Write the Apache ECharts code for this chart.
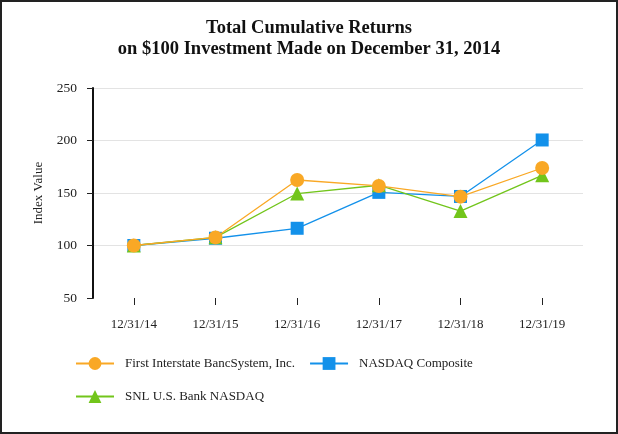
<!DOCTYPE html>
<html><head><meta charset="utf-8">
<script src="https://cdn.jsdelivr.net/npm/echarts@6/dist/echarts.min.js"></script>
<style>html,body{margin:0;padding:0;background:#fff}#c{width:618px;height:434px}</style>
</head><body><div id="c"></div>
<script>
const categories = ['12/31/14','12/31/15','12/31/16','12/31/17','12/31/18','12/31/19'];
const firstInterstate = [100, 107.7, 162.4, 156.7, 146.5, 173.8];
const nasdaqComposite = [100, 106.9, 116.4, 150.6, 146.7, 200.5];
const snlBank = [100, 107.8, 149.5, 157.4, 132.8, 166.8];
const seriesNames = ['First Interstate BancSystem, Inc.', 'NASDAQ Composite', 'SNL U.S. Bank NASDAQ'];
const titleLines = ['Total Cumulative Returns', 'on $100 Investment Made on December 31, 2014'];

const serif = '"Liberation Serif", "Times New Roman", serif';
const colors = ['#F9A825', '#1391EA', '#72C51B'];
const legendText = { fontFamily: serif, fontSize: 13, color: '#222', padding: [0, 0, 0, 6] };
const chart = echarts.init(document.getElementById('c'));
chart.setOption({
  animation: false,
  color: colors,
  title: {
    text: titleLines.join('\n'), left: 'center', top: 13,
    textStyle: { fontFamily: serif, fontWeight: 'bold', fontSize: 18.5, color: '#111', lineHeight: 21 }
  },
  graphic: [{ type: 'rect', shape: { x: 1, y: 1, width: 616, height: 432 }, style: { fill: 'none', stroke: '#222', lineWidth: 2 }, silent: true }],
  legend: [{
    left: 75, top: 357, padding: 0, itemWidth: 38, itemHeight: 16, itemGap: 14,
    data: [seriesNames[0], seriesNames[1]],
    textStyle: legendText
  }, {
    left: 75, top: 390, padding: 0, itemWidth: 38, itemHeight: 16,
    data: [seriesNames[2]],
    textStyle: legendText
  }],
  grid: { left: 93, right: 35, top: 88, bottom: 136, containLabel: false },
  xAxis: {
    type: 'category', data: categories, boundaryGap: true,
    axisLine: { show: false },
    axisTick: { show: true, alignWithLabel: true, length: 7, lineStyle: { color: '#222' } },
    axisLabel: { fontFamily: serif, fontSize: 13, color: '#222', margin: 20 }
  },
  yAxis: {
    type: 'value', min: 50, max: 250, interval: 50,
    name: 'Index Value', nameLocation: 'middle', nameGap: 48, nameRotate: 90,
    nameTextStyle: { fontFamily: serif, fontSize: 13, color: '#222' },
    axisLine: { show: true, lineStyle: { color: '#111', width: 2 } },
    axisTick: { show: true, length: 6, lineStyle: { color: '#222' } },
    axisLabel: { fontFamily: serif, fontSize: 13.5, color: '#222', margin: 16 },
    splitLine: { show: true, lineStyle: { color: ['#ffffff', '#e3e3e3', '#e3e3e3', '#e3e3e3', '#e3e3e3'], width: 1 } }
  },
  series: [
    { name: seriesNames[0], type: 'line', data: firstInterstate, symbol: 'circle', symbolSize: 14, lineStyle: { width: 1.3 }, z: 4 },
    { name: seriesNames[1], type: 'line', data: nasdaqComposite, symbol: 'rect', symbolSize: 13, lineStyle: { width: 1.3 }, z: 2 },
    { name: seriesNames[2], type: 'line', data: snlBank, symbol: 'triangle', symbolSize: 14, lineStyle: { width: 1.3 }, z: 3 }
  ]
});
</script></body></html>
